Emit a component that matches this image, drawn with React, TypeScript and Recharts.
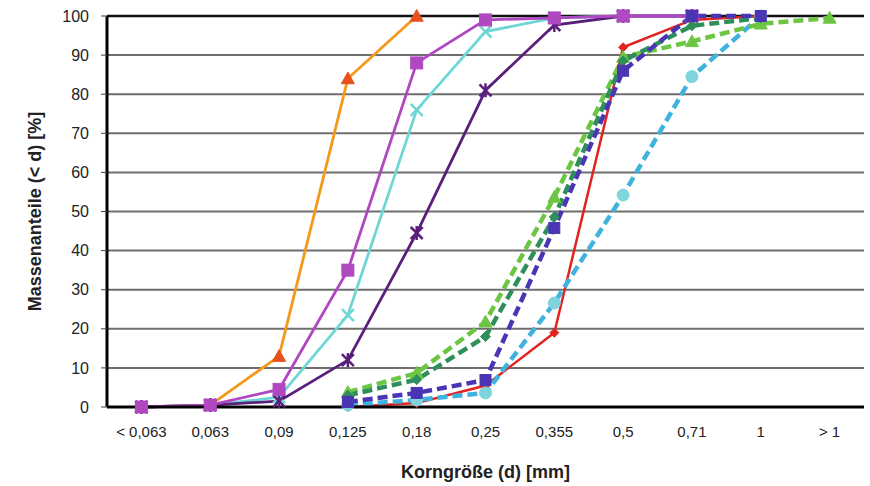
import React from "react";
import { LineChart, Line, XAxis, YAxis, CartesianGrid, ReferenceLine } from "recharts";

const categories = ["< 0,063", "0,063", "0,09", "0,125", "0,18", "0,25", "0,355", "0,5", "0,71", "1", "> 1"];
const yTicks = [0, 10, 20, 30, 40, 50, 60, 70, 80, 90, 100];
const gridTicks = [0, 1, 2, 3, 4, 5, 6, 7, 8, 9, 10, 11];

const orange = [0, 0.5, 13, 84, 100, null, null, null, null, null, null];
const magenta = [0, 0.5, 4.5, 35, 88, 99, 99.5, 100, 100, null, null];
const cyan = [0, 0.5, 2.5, 23.5, 76, 96, 99.5, 100, 100, null, null];
const purple = [0, 0.5, 1.5, 12, 44.5, 81, 97.7, 100, 100, null, null];
const red = [null, null, null, 0, 1, 5.5, 19, 92, 99, 100, null];
const lightGreen = [null, null, null, 3.8, 8.7, 21.8, 53.7, 89.5, 93.5, 98, 99.5];
const darkGreen = [null, null, null, 3, 7, 18, 48.6, 88.5, 97.5, 99.5, null];
const blue = [null, null, null, 1.3, 3.6, 6.9, 45.8, 86, 100, 100, null];
const skyBlue = [null, null, null, 0.5, 1.8, 3.6, 26.6, 54.2, 84.5, 100, null];

const data = categories.map((cat, i) => ({
  cat,
  orange: orange[i],
  magenta: magenta[i],
  cyan: cyan[i],
  purple: purple[i],
  red: red[i],
  lightGreen: lightGreen[i],
  darkGreen: darkGreen[i],
  blue: blue[i],
  skyBlue: skyBlue[i],
}));

const ok = (p: any) => p && p.cy != null && p.value != null && !isNaN(p.cy);

const triangleDot = (fill: string, r = 6.5) => (p: any) => {
  if (!ok(p)) return <g key={p.key} />;
  const { cx, cy } = p;
  return (
    <polygon key={p.key} points={`${cx},${cy - r} ${cx + r},${cy + r * 0.8} ${cx - r},${cy + r * 0.8}`} fill={fill} stroke={fill} />
  );
};
const squareDot = (fill: string, s = 6) => (p: any) => {
  if (!ok(p)) return <g key={p.key} />;
  const { cx, cy } = p;
  return <rect key={p.key} x={cx - s} y={cy - s} width={s * 2} height={s * 2} fill={fill} stroke={fill} />;
};
const xDot = (stroke: string, s = 6) => (p: any) => {
  if (!ok(p)) return <g key={p.key} />;
  const { cx, cy } = p;
  return (
    <g key={p.key} stroke={stroke} strokeWidth={2.5}>
      <line x1={cx - s} y1={cy - s} x2={cx + s} y2={cy + s} />
      <line x1={cx - s} y1={cy + s} x2={cx + s} y2={cy - s} />
    </g>
  );
};
const starDot = (stroke: string, s = 6) => (p: any) => {
  if (!ok(p)) return <g key={p.key} />;
  const { cx, cy } = p;
  return (
    <g key={p.key} stroke={stroke} strokeWidth={2.5}>
      <line x1={cx - s} y1={cy - s} x2={cx + s} y2={cy + s} />
      <line x1={cx - s} y1={cy + s} x2={cx + s} y2={cy - s} />
      <line x1={cx} y1={cy - s - 1} x2={cx} y2={cy + s + 1} />
    </g>
  );
};
const diamondDot = (fill: string, s = 4.5) => (p: any) => {
  if (!ok(p)) return <g key={p.key} />;
  const { cx, cy } = p;
  return <polygon key={p.key} points={`${cx},${cy - s} ${cx + s},${cy} ${cx},${cy + s} ${cx - s},${cy}`} fill={fill} stroke={fill} />;
};
const circleDot = (fill: string, r = 6) => (p: any) => {
  if (!ok(p)) return <g key={p.key} />;
  const { cx, cy } = p;
  return <circle key={p.key} cx={cx} cy={cy} r={r} fill={fill} stroke={fill} />;
};

const FONT = "'Liberation Sans', Arial, sans-serif";
const DASH = "10 5";

export default function App() {
  return (
    <div style={{ position: "absolute", left: 0, top: 0, width: 870, height: 486, background: "#fff", fontFamily: FONT }}>
      <LineChart width={870} height={486} data={data} margin={{ top: 16, right: 6, left: 0, bottom: 0 }}>
        <CartesianGrid xAxisId="a_grid" horizontal vertical={false} stroke="#6e6e6e" strokeWidth={2} />
        <XAxis
          xAxisId="a_grid"
          type="number"
          domain={[0, 11]}
          allowDataOverflow
          ticks={gridTicks}
          tick={false}
          tickSize={5}
          tickLine={{ stroke: "#444", strokeWidth: 1 }}
          axisLine={{ stroke: "#000", strokeWidth: 3 }}
          height={8}
        />
        <XAxis
          xAxisId="b_cat"
          dataKey="cat"
          scale="band"
          interval={0}
          tickLine={false}
          axisLine={false}
          tickMargin={5}
          height={71}
          tick={{ fontSize: 15, fill: "#222", fontFamily: FONT }}
          label={{ value: "Korngröße (d) [mm]", position: "insideBottom", offset: 8, style: { fontSize: 18, fontWeight: 700, fill: "#222", fontFamily: FONT } }}
        />
        <YAxis
          domain={[0, 100]}
          ticks={yTicks}
          interval={0}
          width={107}
          tickSize={6}
          tickMargin={12}
          tickLine={{ stroke: "#444" }}
          axisLine={{ stroke: "#000", strokeWidth: 3 }}
          tick={{ fontSize: 16, fill: "#222", fontFamily: FONT }}
          label={{ value: "Massenanteile (< d) [%]", angle: -90, position: "insideLeft", offset: 35, style: { textAnchor: "middle", fontSize: 18, fontWeight: 700, fill: "#222", fontFamily: FONT } }}
        />
        <ReferenceLine xAxisId="a_grid" y={100} stroke="#111" strokeWidth={2.5} />
        <ReferenceLine xAxisId="a_grid" x={11} stroke="#111" strokeWidth={3} />

        <Line xAxisId="b_cat" dataKey="orange" stroke="#F39A1E" strokeWidth={2.8} dot={triangleDot("#E8501E")} isAnimationActive={false} />
        <Line xAxisId="b_cat" dataKey="cyan" stroke="#6FD6D6" strokeWidth={2.8} dot={xDot("#6FD6D6")} isAnimationActive={false} />
        <Line xAxisId="b_cat" dataKey="purple" stroke="#5A1F7A" strokeWidth={2.8} dot={starDot("#5A1F7A")} isAnimationActive={false} />
        <Line xAxisId="b_cat" dataKey="magenta" stroke="#B046C2" strokeWidth={2.8} dot={squareDot("#B048C0")} isAnimationActive={false} />
        <Line xAxisId="b_cat" dataKey="red" stroke="#E2231F" strokeWidth={2.5} dot={diamondDot("#E2231F")} isAnimationActive={false} />
        <Line xAxisId="b_cat" dataKey="skyBlue" stroke="#3FB2DE" strokeWidth={4.5} strokeDasharray={DASH} dot={circleDot("#80D4DE")} isAnimationActive={false} />
        <Line xAxisId="b_cat" dataKey="lightGreen" stroke="#6CC644" strokeWidth={4.5} strokeDasharray={DASH} dot={triangleDot("#6CC644")} isAnimationActive={false} />
        <Line xAxisId="b_cat" dataKey="darkGreen" stroke="#2F8F5B" strokeWidth={4.5} strokeDasharray={DASH} dot={diamondDot("#2F8F5B", 5)} isAnimationActive={false} />
        <Line xAxisId="b_cat" dataKey="blue" stroke="#4A36B4" strokeWidth={4.5} strokeDasharray={DASH} dot={squareDot("#4A36B4", 5.5)} isAnimationActive={false} />
      </LineChart>
    </div>
  );
}
